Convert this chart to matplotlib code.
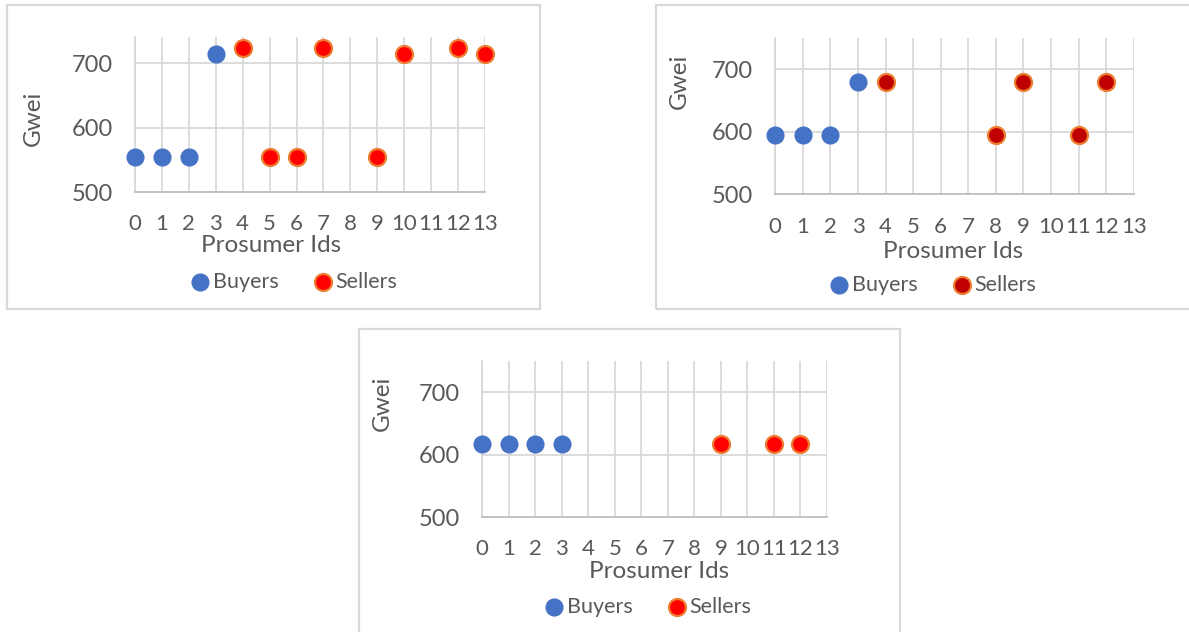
import matplotlib.pyplot as plt
from matplotlib.patches import Rectangle

# data
ids = [str(i) for i in range(14)]

p1_buyers_x = [0, 1, 2, 3]
p1_buyers_y = [555, 555, 555, 714]
p1_sellers_x = [4, 5, 6, 7, 9, 10, 12, 13]
p1_sellers_y = [724, 555, 555, 724, 555, 714, 724, 714]

p2_buyers_x = [0, 1, 2, 3]
p2_buyers_y = [595, 595, 595, 679]
p2_sellers_x = [4, 8, 9, 11, 12]
p2_sellers_y = [679, 595, 679, 595, 679]

p3_buyers_x = [0, 1, 2, 3]
p3_buyers_y = [618, 618, 618, 618]
p3_sellers_x = [9, 11, 12]
p3_sellers_y = [618, 618, 618]

plt.rcParams['font.family'] = ['Lato', 'DejaVu Sans']
TXT = '#595959'
GRID = '#D9D9D9'

W, H = 1189, 632
fig = plt.figure(figsize=(W / 100, H / 100), dpi=100)


def px(x0, y0, x1, y1):
    # pixel box (top-left origin) -> figure fraction rect
    return [x0 / W, 1 - y1 / H, (x1 - x0) / W, (y1 - y0) / H]


# panel frames
for x0, y0, x1, y1 in [(7, 5, 540, 309), (656, 5, 1195, 309), (359, 329, 900, 640)]:
    fig.patches.append(Rectangle((x0 / W, 1 - y1 / H), (x1 - x0) / W, (y1 - y0) / H,
                                 transform=fig.transFigure, fill=False,
                                 edgecolor=GRID, linewidth=1.6))

panels = [
    dict(rect=px(135, 37.3, 485, 192), ymax=740,
         bx=p1_buyers_x, by=p1_buyers_y, sx=p1_sellers_x, sy=p1_sellers_y,
         sfill='#FF0000', xl=(271 / W, 1 - 245 / H), yl=(33 / W, 1 - 118 / H),
         leg=(294 / W, 1 - 282 / H)),
    dict(rect=px(775.3, 37.7, 1133.7, 194.3), ymax=750,
         bx=p2_buyers_x, by=p2_buyers_y, sx=p2_sellers_x, sy=p2_sellers_y,
         sfill='#C00000', xl=(953 / W, 1 - 251.7 / H), yl=(679 / W, 1 - 81.7 / H),
         leg=(933 / W, 1 - 285 / H)),
    dict(rect=px(482.3, 361.3, 827, 517), ymax=750,
         bx=p3_buyers_x, by=p3_buyers_y, sx=p3_sellers_x, sy=p3_sellers_y,
         sfill='#FF0000', xl=(659.5 / W, 1 - 571.3 / H), yl=(382 / W, 1 - 403 / H),
         leg=(648 / W, 1 - 606.7 / H)),
]

for p in panels:
    ax = fig.add_axes(p['rect'])
    ax.scatter(p['bx'], p['by'], s=150, color='#4472C4', edgecolors='#4472C4',
               linewidths=0.8, label='Buyers', clip_on=False, zorder=3)
    ax.scatter(p['sx'], p['sy'], s=150, color=p['sfill'], edgecolors='#ED7D31',
               linewidths=1.6, label='Sellers', clip_on=False, zorder=3)
    ax.set_xlim(0, 13)
    ax.set_ylim(500, p['ymax'])
    ax.set_xticks(range(len(ids)))
    ax.set_xticklabels(ids)
    ax.set_yticks([500, 600, 700])
    ax.tick_params(length=0, labelsize=16, labelcolor=TXT, pad=16)
    ax.tick_params(axis='y', labelsize=17)
    ax.grid(True, color=GRID, linewidth=1.3)
    ax.set_axisbelow(True)
    for s in ['top', 'right']:
        ax.spines[s].set_visible(False)
    ax.spines['left'].set_color(GRID)
    ax.spines['bottom'].set_color('#BFBFBF')
    ax.spines['left'].set_linewidth(1.3)
    ax.spines['bottom'].set_linewidth(1.3)
    ax.set_xlabel('Prosumer Ids', fontsize=17.5, color=TXT)
    ax.xaxis.set_label_coords(p['xl'][0], p['xl'][1], transform=fig.transFigure)
    ax.xaxis.label.set_va('center')
    ax.set_ylabel('Gwei', fontsize=17.5, color=TXT)
    ax.yaxis.set_label_coords(p['yl'][0], p['yl'][1], transform=fig.transFigure)
    ax.yaxis.label.set_va('center')
    leg = ax.legend(loc='center', bbox_to_anchor=p['leg'], bbox_transform=fig.transFigure,
                    ncol=2, frameon=False, fontsize=15.5, handletextpad=0.15,
                    handlelength=0.9, columnspacing=1.6, borderpad=0)
    for t in leg.get_texts():
        t.set_color(TXT)

fig.savefig('out.png', dpi=100)
